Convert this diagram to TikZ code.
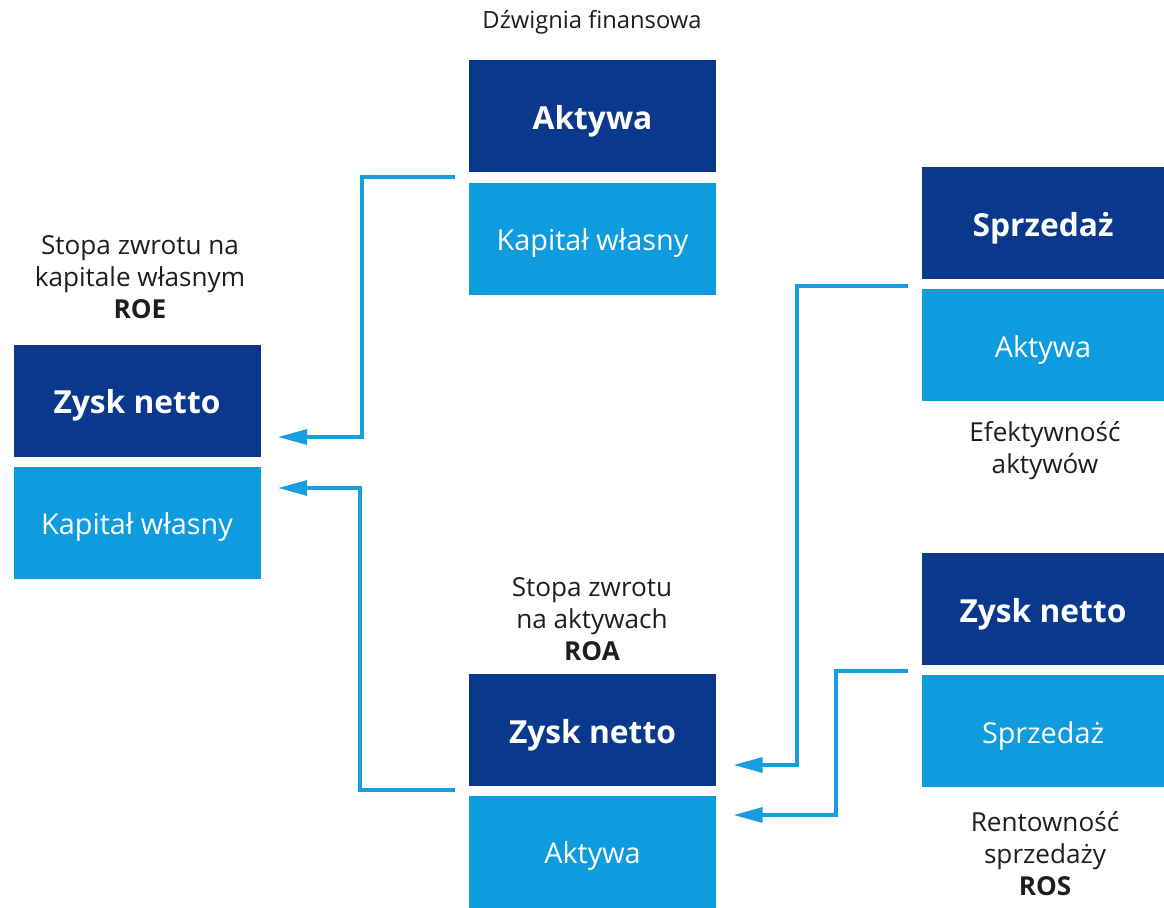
\documentclass[tikz,border=0pt]{standalone}
\usepackage{fontspec}
\setmainfont{Open Sans}
\usetikzlibrary{calc,arrows.meta}
\definecolor{darkb}{RGB}{10,56,140}
\definecolor{lightb}{RGB}{14,156,222}
\definecolor{connc}{RGB}{22,158,224}
\definecolor{txt}{RGB}{30,30,30}
\tikzset{
  boxbase/.style={minimum width=185.25pt,minimum height=84pt,inner sep=0pt,text=white,text depth=0pt},
  darkbox/.style={boxbase,fill=darkb,text height=19.5pt,font=\fontsize{23.8}{27}\selectfont\bfseries},
  lightbox/.style={boxbase,fill=lightb,text height=18.5pt,font=\fontsize{21.6}{25}\selectfont},
  lab/.style={align=center,text=txt,font=\fontsize{19.6}{24}\selectfont,inner sep=0pt},
  conn/.style={draw=connc,line width=3pt,-{Triangle[length=22pt,width=11pt]}}
}
\begin{document}
\begin{tikzpicture}[x=0.75pt,y=-0.75pt]
\useasboundingbox (0,0) rectangle (1164,907);
% boxes
\node[darkbox]  (fA)   at (592.5,116)   {Aktywa};
\node[lightbox] (fK)   at (592.5,238.5) {Kapitał własny};
\node[darkbox]  (roeZ) at (137,400.5)   {Zysk netto};
\node[lightbox] (roeK) at (137,522.5)   {Kapitał własny};
\node[darkbox,minimum width=181.5pt]  (eS)  at (1043,223) {Sprzedaż};
\node[lightbox,minimum width=181.5pt] (eA)  at (1043,345) {Aktywa};
\node[darkbox,minimum width=181.5pt]  (rZ)  at (1043,609) {Zysk netto};
\node[lightbox,minimum width=181.5pt] (rS)  at (1043,731) {Sprzedaż};
\node[darkbox]  (roaZ) at (592.5,730)   {Zysk netto};
\node[lightbox] (roaA) at (592.5,851.5) {Aktywa};
% labels
\node[lab,font=\fontsize{17.8}{22}\selectfont] (lfin) at (592,22) {Dźwignia finansowa};
\node[lab] (lroe) at (140,277) {Stopa zwrotu na\\kapitale własnym\\\textbf{ROE}};
\node[lab] (leff) at (1045,451) {Efektywność\\aktywów};
\node[lab] (lroa) at (592,619) {Stopa zwrotu\\na aktywach\\\textbf{ROA}};
\node[lab] (lros) at (1045,854) {Rentowność\\sprzedaży\\\textbf{ROS}};
% connector coordinates
\coordinate (c1) at ($(fA.south west)+(-14,5)$);
\coordinate (e1) at ($(roeZ.east)+(17,36.5)$);
\coordinate (c2) at ($(roaA.north west)+(-14,-5)$);
\coordinate (e2) at ($(roeK.east)+(17,-34.5)$);
\coordinate (c3) at ($(eA.north west)+(-14,-3)$);
\coordinate (e3) at ($(roaZ.east)+(17,35)$);
\coordinate (c4) at ($(rS.north west)+(-14,-4)$);
\coordinate (e4) at ($(roaA.east)+(17,-36.5)$);
% connectors
\draw[conn] (c1) -| ($(e1)+(84,0)$) -- (e1);
\draw[conn] (c2) -| ($(e2)+(82,0)$) -- (e2);
\draw[conn] (c3) -| ($(e3)+(64,0)$) -- (e3);
\draw[conn] (c4) -| ($(e4)+(103,0)$) -- (e4);
\end{tikzpicture}
\end{document}
